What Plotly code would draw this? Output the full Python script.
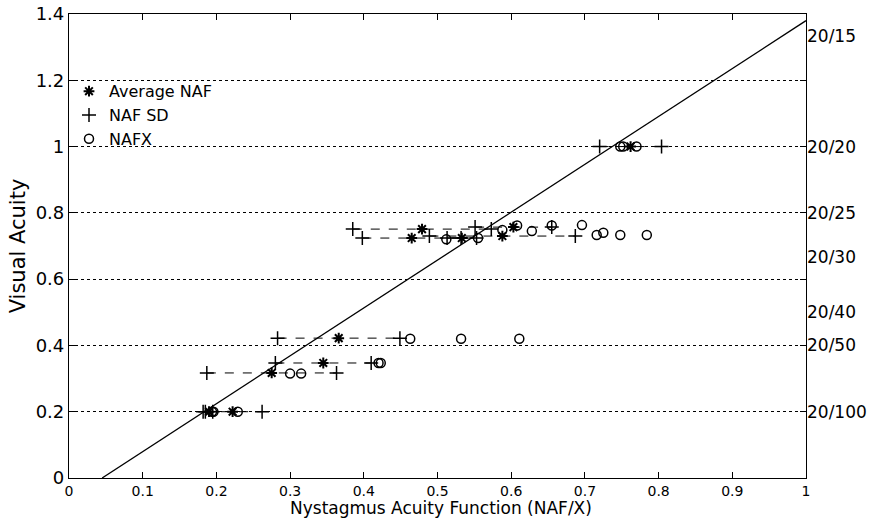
import plotly.graph_objects as go

# ---- data ----
# subjects: visual acuity, average NAF and its SD
subj_va = [1.0, 0.757, 0.751, 0.724, 0.724, 0.73, 0.422, 0.347, 0.317, 0.2, 0.2]
avg_naf = [0.762, 0.603, 0.479, 0.465, 0.533, 0.588, 0.366, 0.345, 0.275, 0.222, 0.19]
naf_sd = [0.042, 0.052, 0.094, 0.067, 0.02, 0.099, 0.083, 0.065, 0.088, 0.04, 0.005]

# NAFX values
nafx_x = [0.748, 0.752, 0.77,
          0.608, 0.655, 0.696,
          0.588, 0.628,
          0.512, 0.555,
          0.716, 0.725, 0.748, 0.784,
          0.463, 0.532, 0.611,
          0.42, 0.423,
          0.300, 0.315,
          0.194, 0.196, 0.229]
nafx_y = [1.0, 1.0, 1.0,
          0.762, 0.762, 0.763,
          0.748, 0.745,
          0.72, 0.724,
          0.733, 0.74, 0.733, 0.733,
          0.42, 0.42, 0.42,
          0.347, 0.347,
          0.315, 0.315,
          0.2, 0.2, 0.2]

# regression line
fit_slope = 1.445
fit_intercept = -0.065

# Snellen labels on right axis
snellen_vals = [4 / 3, 1.0, 0.8, 2 / 3, 0.5, 0.4, 0.2]
snellen_text = ["20/15", "20/20", "20/25", "20/30", "20/40", "20/50", "20/100"]

x_ticks = [0, 0.1, 0.2, 0.3, 0.4, 0.5, 0.6, 0.7, 0.8, 0.9, 1]
x_ticktext = ["0", "0.1", "0.2", "0.3", "0.4", "0.5", "0.6", "0.7", "0.8", "0.9", "1"]
y_ticks = [0, 0.2, 0.4, 0.6, 0.8, 1.0, 1.2, 1.4]
y_ticktext = ["0", "0.2", "0.4", "0.6", "0.8", "1", "1.2", "1.4"]

x_title = "Nystagmus Acuity Function (NAF/X)"
y_title = "Visual Acuity"

FONT = "DejaVu Sans, Liberation Sans, Arial, sans-serif"

W, H = 872, 519
M = dict(l=69, r=66, t=14, b=41)

fig = go.Figure()

# regression line
x0 = -fit_intercept / fit_slope
x1 = 1.0
fig.add_trace(go.Scatter(x=[x0, x1], y=[fit_slope * x0 + fit_intercept, fit_slope * x1 + fit_intercept],
                         mode="lines", line=dict(color="black", width=1.3), showlegend=False, hoverinfo="skip"))

# SD dashed segments
sx, sy = [], []
for va, a, s in zip(subj_va, avg_naf, naf_sd):
    sx += [a - s, a + s, None]
    sy += [va, va, None]
fig.add_trace(go.Scatter(x=sx, y=sy, mode="lines",
                         line=dict(color="black", width=1, dash="dash"),
                         showlegend=False, hoverinfo="skip"))

# Average NAF
fig.add_trace(go.Scatter(x=avg_naf, y=subj_va, mode="markers", name="Average NAF",
                         marker=dict(symbol="asterisk-open", size=9, color="black",
                                     line=dict(color="black", width=2))))

# SD end markers
px, py = [], []
for va, a, s in zip(subj_va, avg_naf, naf_sd):
    px += [a - s, a + s]
    py += [va, va]
fig.add_trace(go.Scatter(x=px, y=py, mode="markers", name="NAF SD",
                         marker=dict(symbol="cross-thin-open", size=10, color="black",
                                     line=dict(color="black", width=1.5))))

# NAFX
fig.add_trace(go.Scatter(x=nafx_x, y=nafx_y, mode="markers", name="NAFX",
                         marker=dict(symbol="circle-open", size=9, color="black",
                                     line=dict(color="black", width=1.5))))

# invisible trace to activate y2
fig.add_trace(go.Scatter(x=[0.5], y=[0.5], yaxis="y2", mode="markers",
                         marker=dict(opacity=0), showlegend=False, hoverinfo="skip"))

plot_h = H - M["t"] - M["b"]

fig.add_annotation(text=x_title, xref="paper", yref="paper", x=0.505, y=-M["b"] / plot_h,
                   xanchor="center", yanchor="bottom", showarrow=False,
                   font=dict(size=17, family=FONT, color="black"), borderpad=0)

fig.update_layout(
    width=W, height=H,
    margin=M,
    paper_bgcolor="white", plot_bgcolor="white",
    font=dict(family=FONT, color="black", size=16),
    legend=dict(x=0.0, y=0.87, xanchor="left", yanchor="top",
                bgcolor="rgba(0,0,0,0)", borderwidth=0,
                font=dict(size=16, family=FONT), tracegroupgap=0,
                itemwidth=30),
    xaxis=dict(range=[0, 1], tickvals=x_ticks, ticktext=x_ticktext,
               showgrid=False, zeroline=False, showline=True, linecolor="black",
               linewidth=1.2, mirror="ticks", ticks="inside", ticklen=6,
               tickcolor="black", tickfont=dict(size=14), automargin=False),
    yaxis=dict(range=[0, 1.4], tickvals=y_ticks, ticktext=y_ticktext,
               showgrid=True, gridcolor="black", griddash="dot", gridwidth=1,
               zeroline=False, showline=True, linecolor="black", linewidth=1.2,
               mirror="ticks", ticks="inside", ticklen=6, tickcolor="black",
               tickfont=dict(size=18), automargin=False,
               title=dict(text=y_title, font=dict(size=21), standoff=4)),
    yaxis2=dict(range=[0, 1.4], overlaying="y", side="right",
                tickvals=snellen_vals, ticktext=snellen_text,
                showgrid=False, zeroline=False, showline=False, ticks="",
                tickfont=dict(size=17), automargin=False),
)

fig.write_html("out.html")
